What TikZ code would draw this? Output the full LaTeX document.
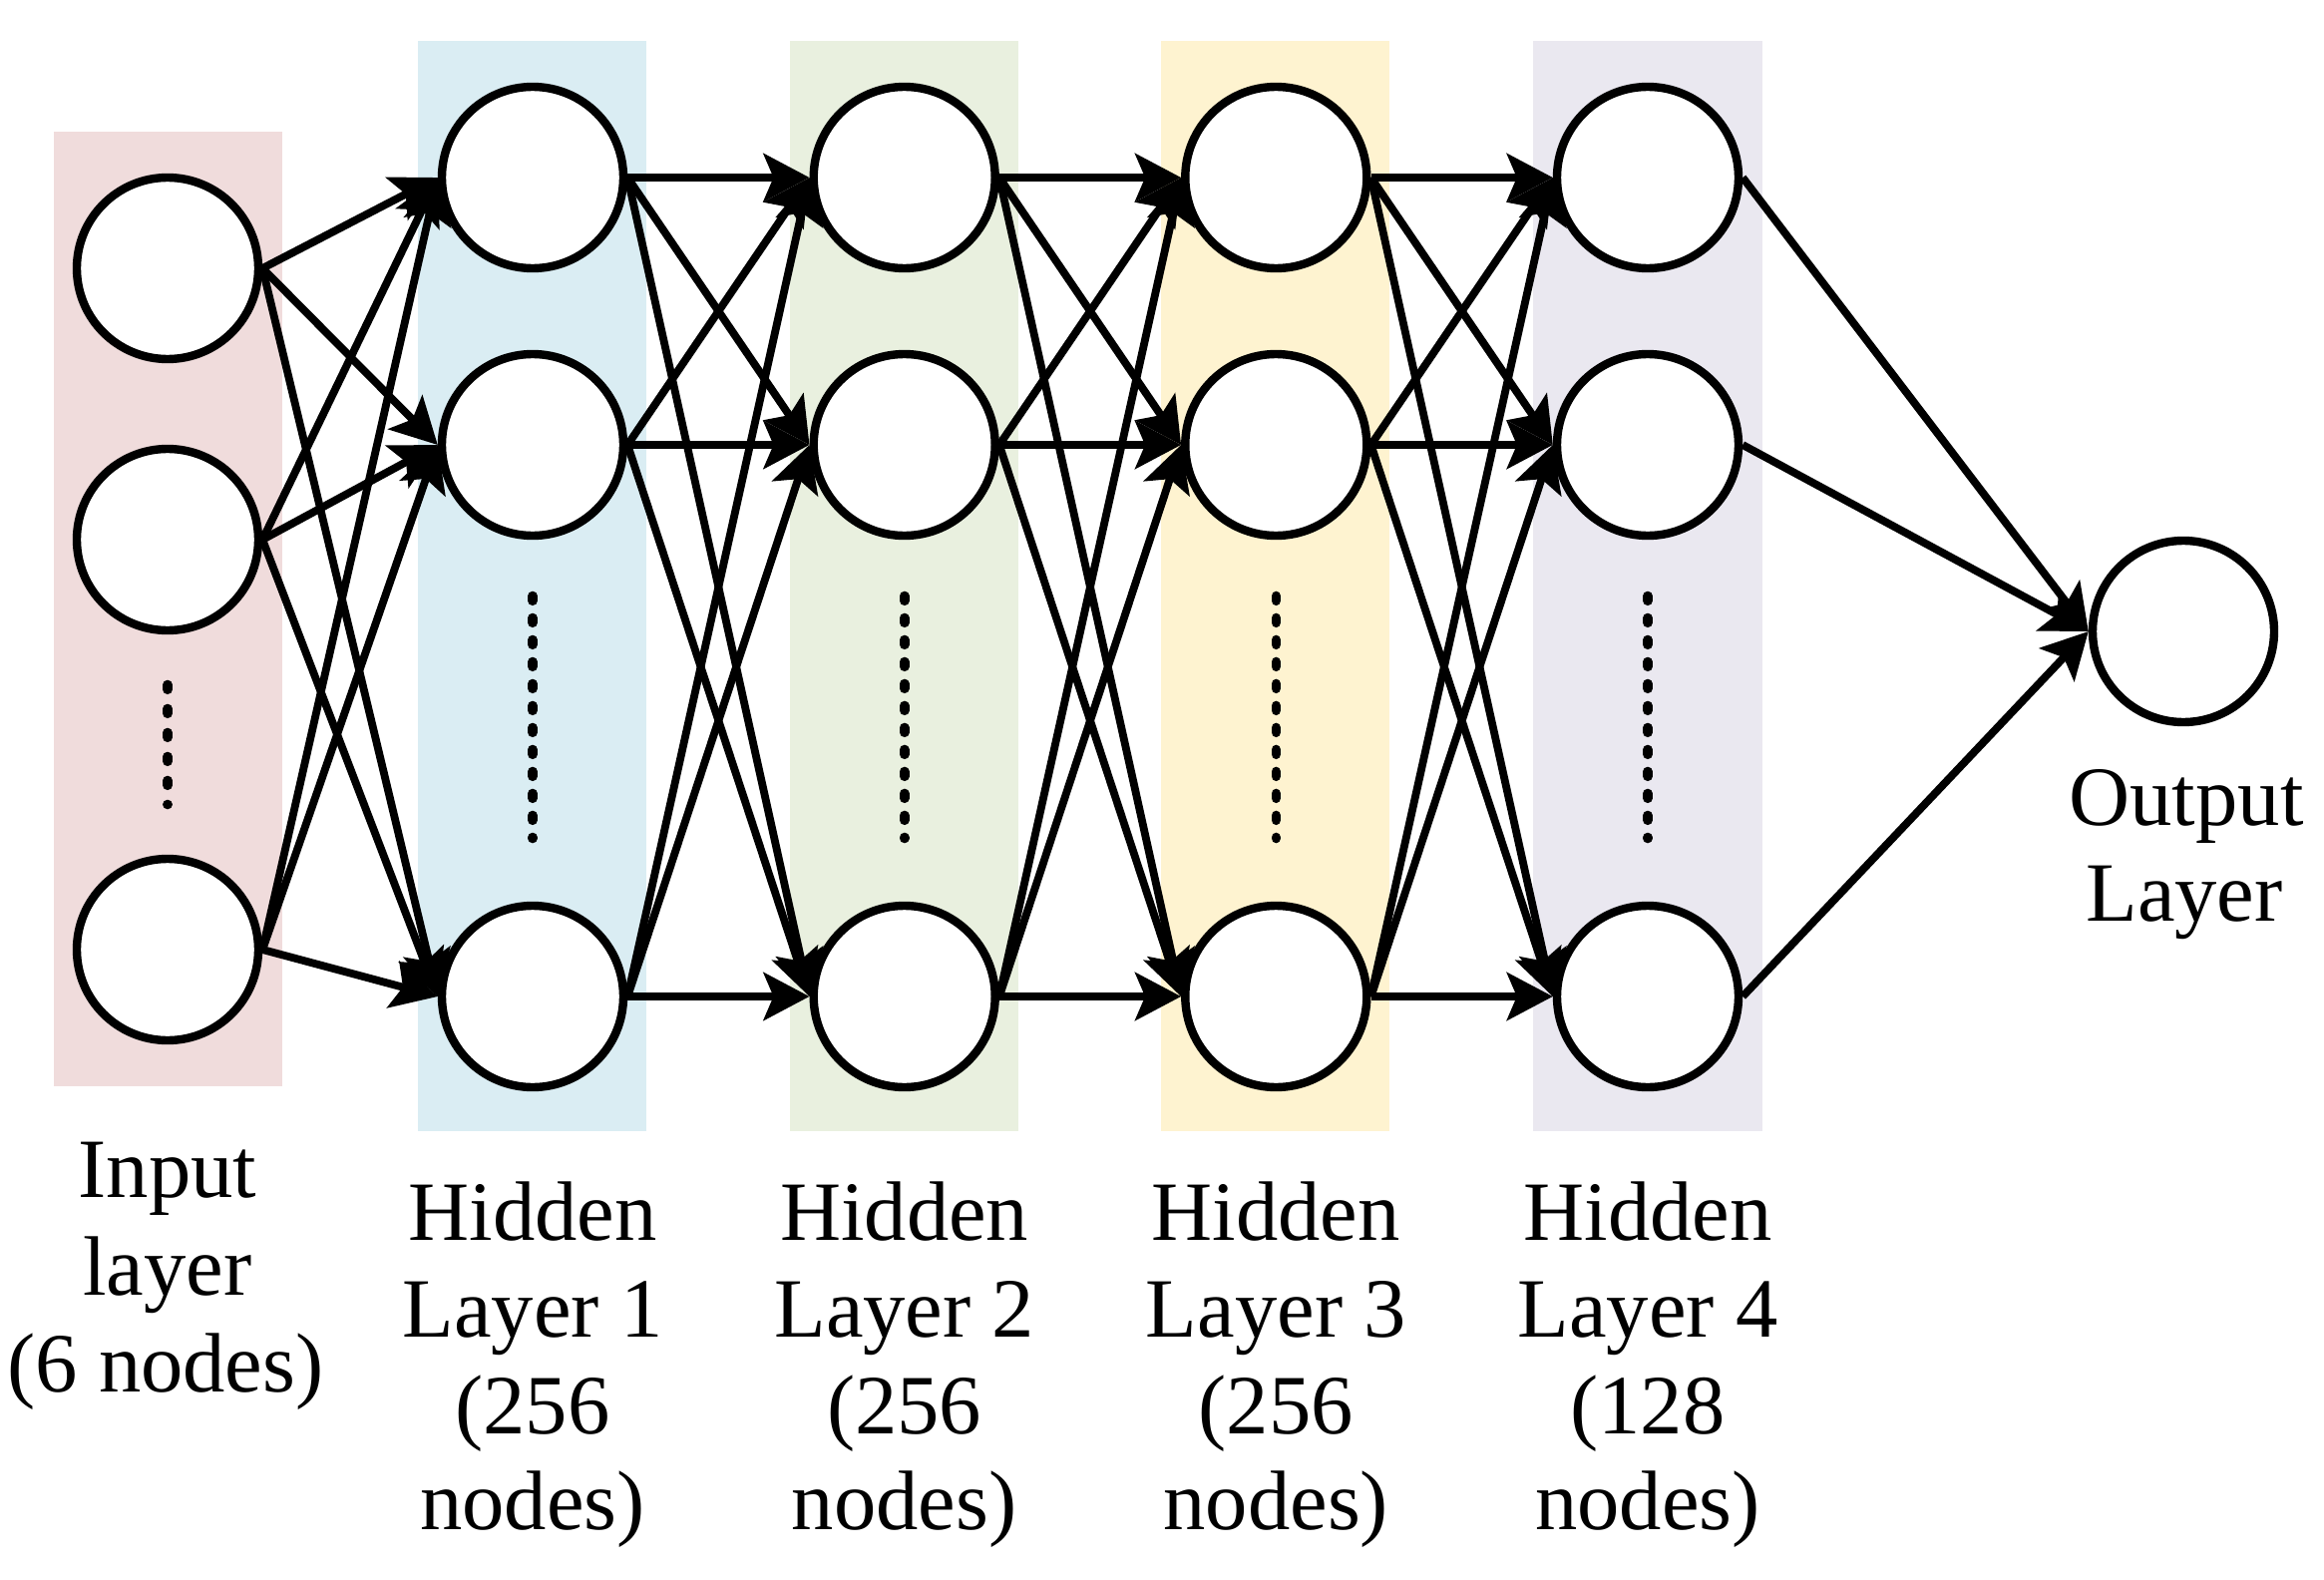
\documentclass[tikz,border=0pt]{standalone}
\usepackage{fontspec}
\setmainfont{Liberation Serif}
\usetikzlibrary{arrows.meta}
\definecolor{cin}{RGB}{240,220,220}
\definecolor{cha}{RGB}{218,237,243}
\definecolor{chb}{RGB}{233,240,223}
\definecolor{chc}{RGB}{254,243,208}
\definecolor{chd}{RGB}{234,232,240}
\begin{document}
\begin{tikzpicture}[x=0.5pt,y=-0.5pt,
  neuron/.style={circle,draw=black,line width=4.2pt,fill=white,minimum size=91pt,inner sep=0pt},
  conn/.style={line width=3.9pt,-{Stealth[length=23pt,width=24pt,inset=5pt]}},
  lbl/.style={font=\fontsize{42.3pt}{48pt}\selectfont,inner sep=0pt,anchor=base},
  dotsH/.style={line width=4.8pt,line cap=round,dash pattern=on 2.4pt off 8.6pt},
  dotsI/.style={line width=4.8pt,line cap=round,dash pattern=on 2.4pt off 9.6pt},
]
\useasboundingbox (0,0) rectangle (2330,1584);
% background columns
\fill[cin] (54,132) rectangle (283,1089);
\fill[cha] (419,41) rectangle (648,1134);
\fill[chb] (792,41) rectangle (1021,1134);
\fill[chc] (1164,41) rectangle (1393,1134);
\fill[chd] (1537,41) rectangle (1767,1134);
% dots
\draw[dotsI] (168,686.5) -- (168,806.5);
\foreach \x in {534,906.7,1279.3,1652}
  \draw[dotsH] (\x,597.5) -- (\x,840.5);
% neurons
\node[neuron] (i1) at (168,269) {};
\node[neuron] (i2) at (168,541) {};
\node[neuron] (i3) at (168,952) {};
\node[neuron] (a1) at (534,178) {};
\node[neuron] (a2) at (534,446) {};
\node[neuron] (a3) at (534,999) {};
\node[neuron] (b1) at (906.7,178) {};
\node[neuron] (b2) at (906.7,446) {};
\node[neuron] (b3) at (906.7,999) {};
\node[neuron] (c1) at (1279.3,178) {};
\node[neuron] (c2) at (1279.3,446) {};
\node[neuron] (c3) at (1279.3,999) {};
\node[neuron] (d1) at (1652,178) {};
\node[neuron] (d2) at (1652,446) {};
\node[neuron] (d3) at (1652,999) {};
\node[neuron] (o) at (2189,633) {};
% connectors
\foreach \s in {i1,i2,i3} \foreach \t in {a1,a2,a3} \draw[conn] (\s.east) -- (\t.west);
\foreach \s in {a1,a2,a3} \foreach \t in {b1,b2,b3} \draw[conn] (\s.east) -- (\t.west);
\foreach \s in {b1,b2,b3} \foreach \t in {c1,c2,c3} \draw[conn] (\s.east) -- (\t.west);
\foreach \s in {c1,c2,c3} \foreach \t in {d1,d2,d3} \draw[conn] (\s.east) -- (\t.west);
\foreach \s in {d1,d2,d3} \draw[conn] (\s.east) -- (o.west);
% labels
\node[lbl] (li1) at (168,1200) {Input};
\node[lbl] (li2) at (168,1298) {layer};
\node[lbl] (li3) at (166,1395) {(6 nodes)};
\node[lbl] (la1) at (534,1243) {Hidden};
\node[lbl] (la2) at (534,1340) {Layer 1};
\node[lbl] (la3) at (534,1437) {(256};
\node[lbl] (la4) at (534,1533) {nodes)};
\node[lbl] (lb1) at (906.7,1243) {Hidden};
\node[lbl] (lb2) at (906.7,1340) {Layer 2};
\node[lbl] (lb3) at (906.7,1437) {(256};
\node[lbl] (lb4) at (906.7,1533) {nodes)};
\node[lbl] (lc1) at (1279.3,1243) {Hidden};
\node[lbl] (lc2) at (1279.3,1340) {Layer 3};
\node[lbl] (lc3) at (1279.3,1437) {(256};
\node[lbl] (lc4) at (1279.3,1533) {nodes)};
\node[lbl] (ld1) at (1652,1243) {Hidden};
\node[lbl] (ld2) at (1652,1340) {Layer 4};
\node[lbl] (ld3) at (1652,1437) {(128};
\node[lbl] (ld4) at (1652,1533) {nodes)};
\node[lbl] (lo1) at (2192,827) {Output};
\node[lbl] (lo2) at (2190,923) {Layer};
\end{tikzpicture}
\end{document}
